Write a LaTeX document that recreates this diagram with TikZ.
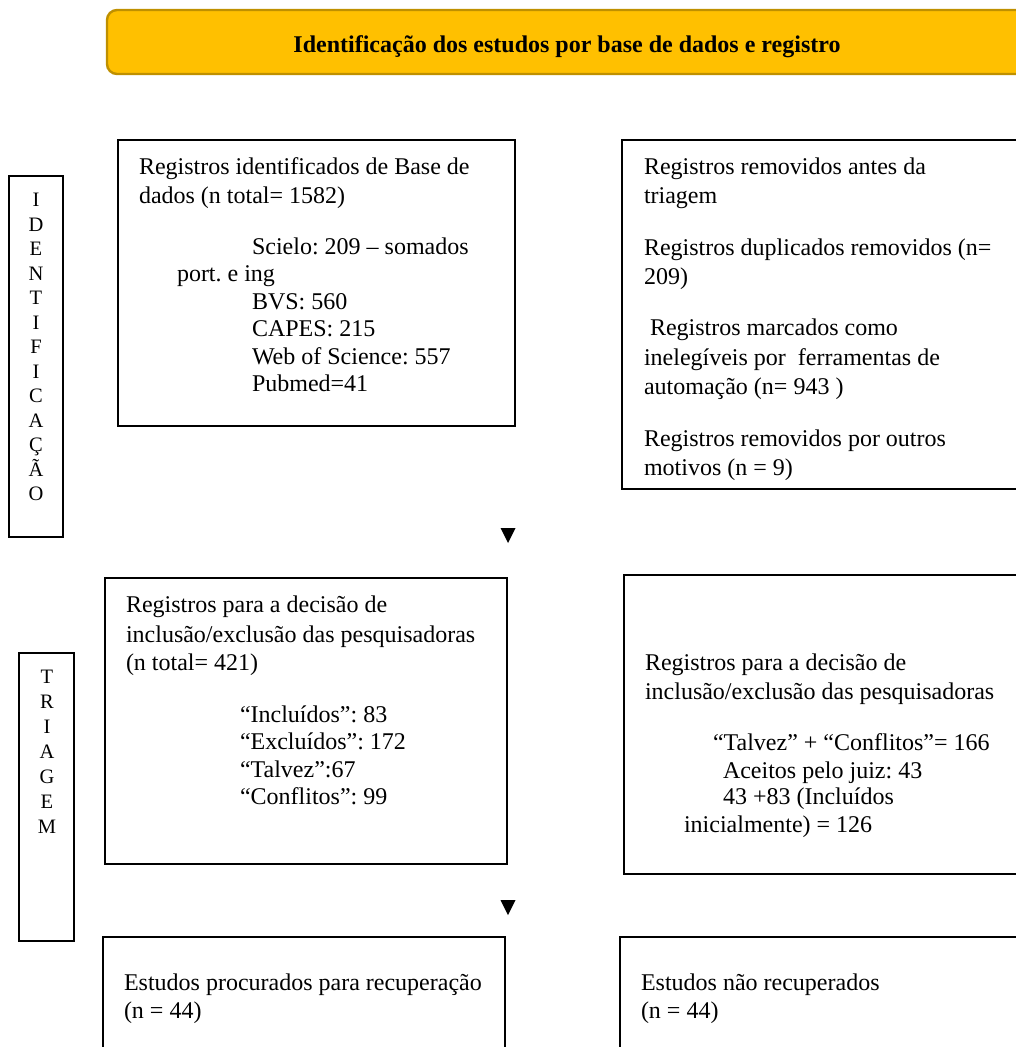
\documentclass[tikz,border=0pt]{standalone}
\usepackage{fontspec}
\setmainfont{Liberation Serif}
\definecolor{titlefill}{HTML}{FFC000}
\definecolor{titleedge}{HTML}{BF9000}
\begin{document}
\frenchspacing
\begin{tikzpicture}[x=1pt,y=-1pt,
  box/.style={draw=black, line width=2.4pt, inner sep=0pt, outer sep=0pt},
  sidebox/.style={draw=black, line width=1.8pt, inner sep=0pt, outer sep=0pt},
  titlebox/.style={draw=titleedge, fill=titlefill, line width=2.4pt, rounded corners=10pt, inner sep=0pt, outer sep=0pt},
  titletext/.style={anchor=base, inner sep=0pt, outer sep=0pt, font=\fontsize{24}{28}\selectfont\bfseries},
  txt/.style={anchor=base west, inner sep=0pt, outer sep=0pt, font=\fontsize{24}{28}\selectfont},
  letter/.style={anchor=base, inner sep=0pt, outer sep=0pt, font=\fontsize{20.5}{24}\selectfont},
  tri/.style={fill=black}]
\useasboundingbox (0,0) rectangle (1016,1047);
\clip (0,0) rectangle (1016,1047);

% title
\node[titlebox, minimum width=923, minimum height=64] (title) at (568.5,42) {};
\node[titletext] (titletxt) at (567,52) {Identificação dos estudos por base de dados e registro};

% side labels
\node[sidebox, minimum width=54, minimum height=361] (ident) at (36,356.5) {};
\foreach \l [count=\i] in {I,D,E,N,T,I,F,I,C,A,Ç,Ã,O}
  \node[letter] (id\i) at (36,182+24.5*\i) {\l};
\node[sidebox, minimum width=55, minimum height=288] (triag) at (46.5,797) {};
\foreach \l [count=\i] in {T,R,I,A,G,E,M}
  \node[letter] (tr\i) at (47,658.5+25*\i) {\l};

% boxes
\node[box, minimum width=397, minimum height=286] (b1) at (316.5,283) {};
\node[box, minimum width=408, minimum height=349] (r1) at (826,314.5) {};
\node[box, minimum width=402, minimum height=286] (b2) at (306,721) {};
\node[box, minimum width=406, minimum height=299] (r2) at (827,724.5) {};
\node[box, minimum width=402, minimum height=123] (b3) at (304,998.5) {};
\node[box, minimum width=410, minimum height=123] (r3) at (825,998.5) {};

% arrow heads
\fill[tri] (500.5,528) -- (515.5,528) -- (508,543) -- cycle;
\fill[tri] (500.5,900) -- (515.5,900) -- (508,915) -- cycle;

% box 1 text
\node[txt] (b1a) at (139,174) {Registros identificados de Base de};
\node[txt] (b1b) at (139,203) {dados (n total= 1582)};
\node[txt] (b1c) at (252,254) {Scielo: 209 – somados};
\node[txt] (b1d) at (177,281) {port. e ing};
\node[txt] (b1e) at (252,309) {BVS: 560};
\node[txt] (b1f) at (252,336) {CAPES: 215};
\node[txt] (b1g) at (252,364) {Web of Science: 557};
\node[txt] (b1h) at (252,391) {Pubmed=41};

% right box 1 text
\node[txt] (r1a) at (644,174) {Registros removidos antes da};
\node[txt] (r1b) at (644,203) {triagem};
\node[txt] (r1c) at (644,255) {Registros duplicados removidos (n=};
\node[txt] (r1d) at (644,284) {209)};
\node[txt] (r1e) at (650,335) {Registros marcados como};
\node[txt] (r1f) at (644,365) {inelegíveis por\ \ ferramentas de};
\node[txt] (r1g) at (644,394) {automação (n= 943 )};
\node[txt] (r1h) at (644,446) {Registros removidos por outros};
\node[txt] (r1i) at (644,475) {motivos (n = 9)};

% box 2 text
\node[txt] (b2a) at (126,612) {Registros para a decisão de};
\node[txt] (b2b) at (126,642) {inclusão/exclusão das pesquisadoras};
\node[txt] (b2c) at (126,670) {(n total= 421)};
\node[txt] (b2d) at (240,722) {“Incluídos”: 83};
\node[txt] (b2e) at (240,749) {“Excluídos”: 172};
\node[txt] (b2f) at (240,777) {“Talvez”:67};
\node[txt] (b2g) at (240,804) {“Conflitos”: 99};

% right box 2 text
\node[txt] (r2a) at (645,670) {Registros para a decisão de};
\node[txt] (r2b) at (645,699) {inclusão/exclusão das pesquisadoras};
\node[txt] (r2c) at (713,750) {“Talvez” + “Conflitos”= 166};
\node[txt] (r2d) at (723,778) {Aceitos pelo juiz: 43};
\node[txt] (r2e) at (723,804) {43 +83 (Incluídos};
\node[txt] (r2f) at (684,832) {inicialmente) = 126};

% box 3 texts
\node[txt] (b3a) at (124,990) {Estudos procurados para recuperação};
\node[txt] (b3b) at (124,1018) {(n = 44)};
\node[txt] (r3a) at (641,990) {Estudos não recuperados};
\node[txt] (r3b) at (641,1018) {(n = 44)};
\end{tikzpicture}
\end{document}
